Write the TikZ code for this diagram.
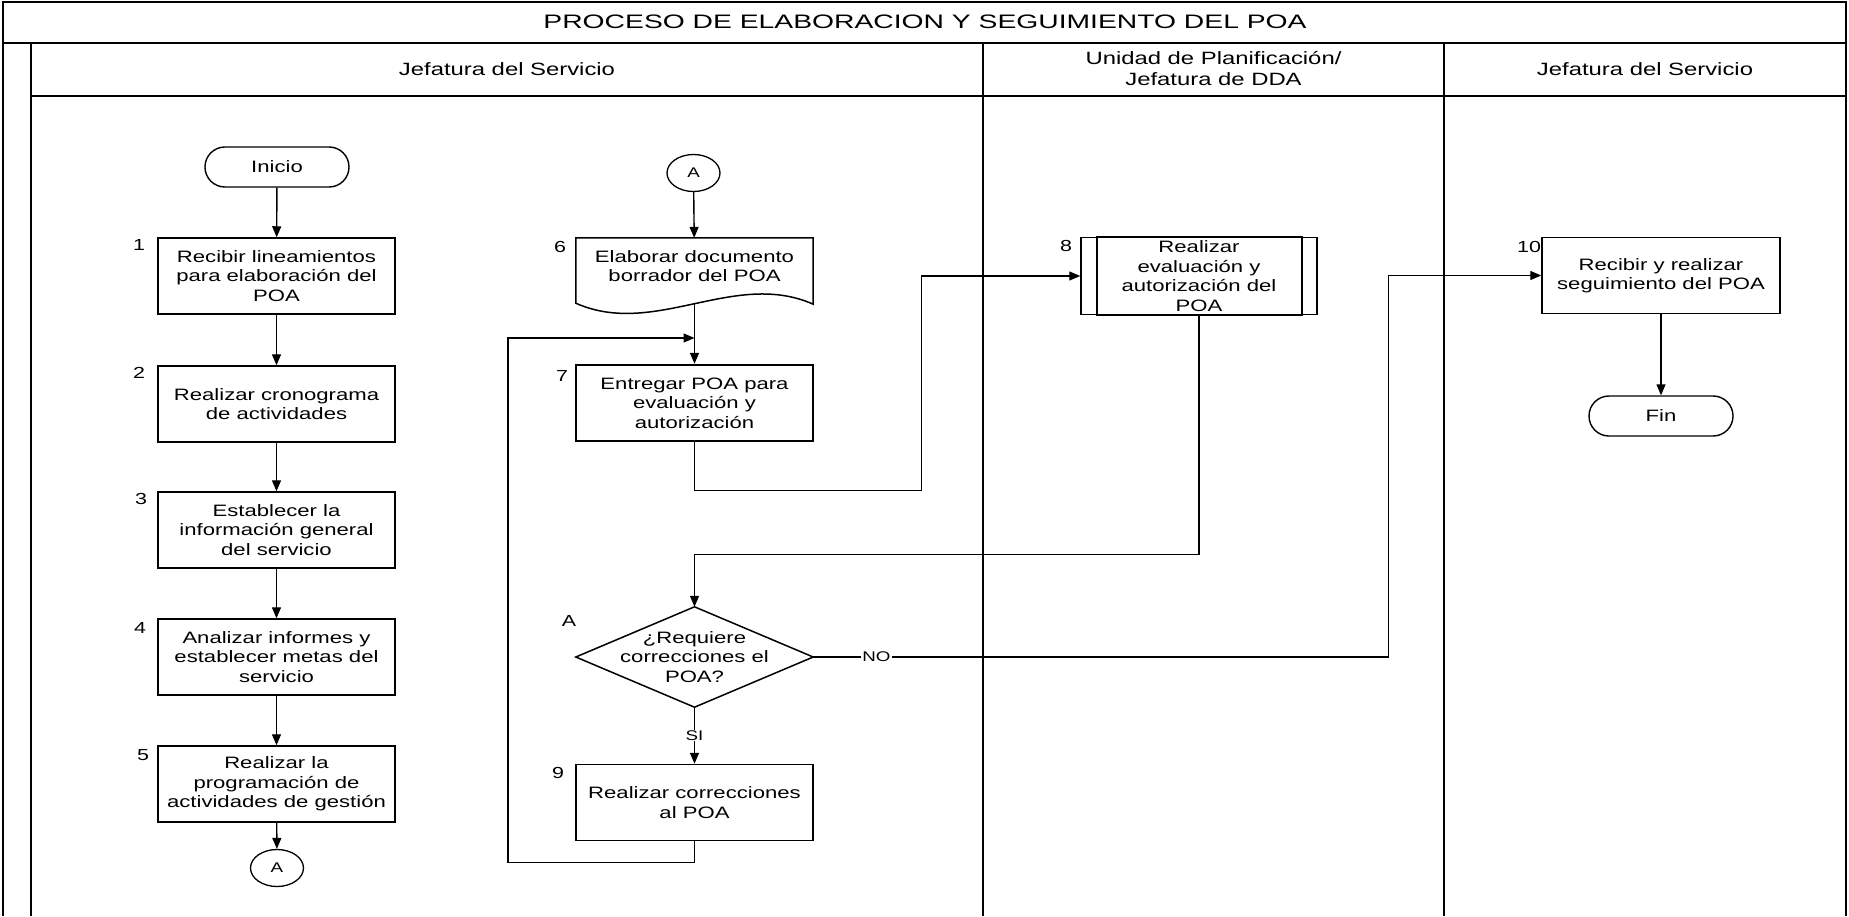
\documentclass[tikz,border=0pt]{standalone}
\usepackage{fontspec}
\setmainfont{Liberation Sans}[FakeStretch=1.34]
\newfontfamily\titlefont{Liberation Sans}[FakeStretch=1.45]
\usetikzlibrary{arrows.meta,shapes.geometric,calc}
\newcommand{\fbody}{\fontsize{16.5}{19.5}\selectfont}
\newcommand{\fhead}{\fontsize{17.8}{21}\selectfont}
\newcommand{\fsmall}{\fontsize{14}{16}\selectfont}
\newcommand{\fnum}{\fontsize{16}{17}\selectfont}
\begin{document}
\begin{tikzpicture}[x=1pt,y=-1pt,
  frame/.style={line width=1.8pt},
  lane/.style={line width=2.4pt},
  shapeline/.style={draw, line width=1.5pt},
  proc/.style={draw, line width=1.5pt, minimum width=237pt, minimum height=76pt, inner sep=0pt, align=center, font=\fbody},
  term/.style={draw, line width=1.4pt, rounded corners=19.9pt, minimum width=144pt, minimum height=40pt, inner sep=0pt, font=\fbody},
  conn/.style={draw, ellipse, line width=1.3pt, minimum width=53pt, minimum height=37pt, inner sep=0pt, font=\fsmall},
  plain/.style={inner sep=0pt, align=center, font=\fbody},
  numl/.style={inner sep=0pt, font=\fnum},
  lbl/.style={inner sep=1pt, fill=white, font=\fsmall},
  flow/.style={line width=1.4pt, -{Triangle[length=11pt,width=9pt]}},
]
\useasboundingbox (0,0) rectangle (1849,916);
\fill[white] (0,0) rectangle (1849,916);

% frame and lanes
\draw[frame] (3,916) -- (3,2) -- (1846,2) -- (1846,916);
\draw[frame] (3,43) -- (1846,43);
\draw[frame] (31,43) -- (31,916);
\draw[frame] (31,96) -- (1846,96);
\draw[lane] (983,43) -- (983,916);
\draw[lane] (1444,43) -- (1444,916);

\node[inner sep=0pt, font={\titlefont\fontsize{19.5}{22}\selectfont}] (title) at (925,22) {PROCESO DE ELABORACION Y SEGUIMIENTO DEL POA};
\node[inner sep=0pt, font=\fhead] (h1) at (507,69) {Jefatura del Servicio};
\node[inner sep=0pt, align=center, font=\fhead] (h2) at (1213.5,69) {Unidad de Planificación/\\Jefatura de DDA};
\node[inner sep=0pt, font=\fhead] (h3) at (1645,69) {Jefatura del Servicio};

% column 1
\node[term] (ini) at (277,167) {Inicio};
\node[proc] (b1) at (276.5,276) {Recibir lineamientos\\para elaboración del\\POA};
\node[proc] (b2) at (276.5,404) {Realizar cronograma\\de actividades};
\node[proc] (b3) at (276.5,530) {Establecer la\\información general\\del servicio};
\node[proc] (b4) at (276.5,657) {Analizar informes y\\establecer metas del\\servicio};
\node[proc] (b5) at (276.5,784) {Realizar la\\programación de\\actividades de gestión};
\node[conn] (ca) at (277,868) {A};

\node[numl] (n1) at (139,245) {1};
\node[numl] (n2) at (139,373) {2};
\node[numl] (n3) at (141,499) {3};
\node[numl] (n4) at (140,628) {4};
\node[numl] (n5) at (143,755) {5};

% column 2
\node[conn] (cb) at (693.5,173) {A};
\node[plain, minimum width=237pt, minimum height=56pt] (d6) at (694.5,266) {Elaborar documento\\borrador del POA};
\draw[shapeline] (d6.north west) -- (d6.north east) -- ($(d6.south east)+(0,10)$)
  .. controls ($(d6.south east)+(-79,-25)$) and ($(d6.south west)+(79,44)$) .. ($(d6.south west)+(0,9)$) -- cycle;
\coordinate (d6b) at ($(d6.south)+(0,9.5)$);
\node[proc, line width=2.4pt] (b7) at (694.5,403) {Entregar POA para\\evaluación y\\autorización};
\node[plain, minimum width=237pt, minimum height=100pt] (dia) at (694.5,657) {¿Requiere\\correcciones el\\POA?};
\draw[shapeline] (dia.north) -- (dia.east) -- (dia.south) -- (dia.west) -- cycle;
\node[proc] (b9) at (694.5,802.5) {Realizar correcciones\\al POA};
\coordinate (j1) at (694.5,338);

\node[numl] (n6) at (560,247) {6};
\node[numl] (n7) at (562,376) {7};
\node[numl] (nA) at (569,621) {A};
\node[numl] (n9) at (558,773) {9};

% column 3
\node[proc, minimum width=236pt, minimum height=77pt] (b8) at (1199,276) {Realizar\\evaluación y\\autorización del\\POA};
\draw[line width=2.2pt] ($(b8.north west)+(17,0)$) rectangle ($(b8.south east)+(-16,0)$);
\node[numl] (n8) at (1066,245.5) {8};

% column 4
\node[proc, minimum width=238pt] (b10) at (1661,275.5) {Recibir y realizar\\seguimiento del POA};
\node[term] (fin) at (1661,416) {Fin};
\node[numl] (n10) at (1529,247) {10};

% connectors
\draw[flow] (ini) -- (b1);
\draw[flow] (b1) -- (b2);
\draw[flow] (b2) -- (b3);
\draw[flow] (b3) -- (b4);
\draw[flow] (b4) -- (b5);
\draw[flow] (b5) -- (ca);
\draw[flow] (cb) -- (d6);
\draw[flow] (d6b) -- (b7);
\draw[flow] (b9.south) -- ++(0,21) -| (508,338) -- (j1);
\draw[flow] (b7.south) -- ++(0,48) -| ([xshift=-159pt]b8.west) -- (b8.west);
\draw[flow] (b8.south) -- ++(0,239) -| (dia.north);
\draw[flow] (dia.east) -| node[pos=0.055, lbl]{NO} ([xshift=-153pt]b10.west) -- (b10.west);
\draw[flow] (dia.south) -- node[lbl]{SI} (b9.north);
\draw[flow] (b10) -- (fin);
\end{tikzpicture}
\end{document}
